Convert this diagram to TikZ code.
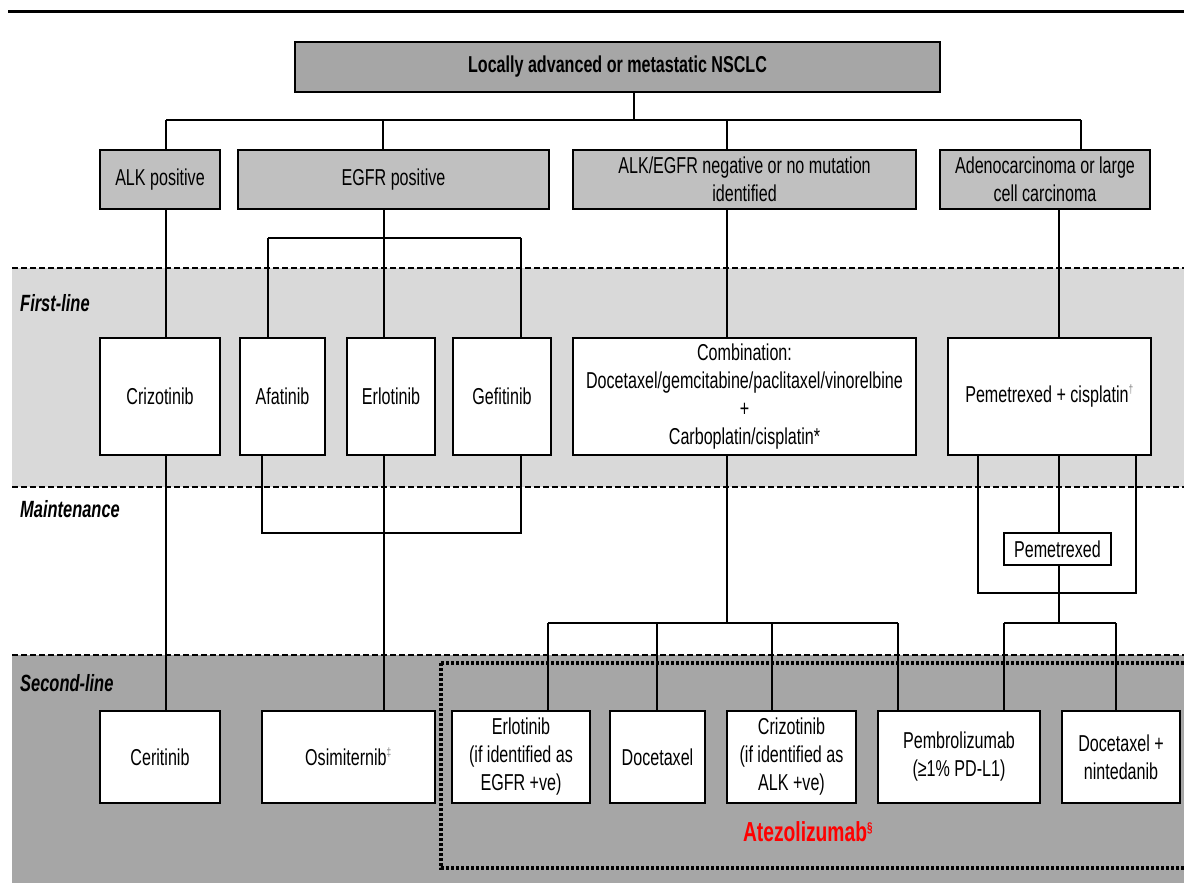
\documentclass[tikz,border=0pt]{standalone}
\usepackage{fontspec}
\setmainfont{Liberation Sans}[FakeStretch=0.70]
\definecolor{lightband}{HTML}{D9D9D9}
\definecolor{darkband}{HTML}{A6A6A6}
\definecolor{rootfill}{HTML}{A6A6A6}
\definecolor{catfill}{HTML}{C0C0C0}
\definecolor{supgray}{HTML}{808080}
\newcommand\mainsz{\fontsize{23}{28}\selectfont}
\newcommand\labsz{\bfseries\itshape\fontsize{23.5}{26}\selectfont}
\newcommand\supmark[1]{\textsuperscript{\textcolor{supgray}{\fontsize{12}{12}\selectfont #1}}}
\begin{document}
\begin{tikzpicture}[x=1pt,y=-1pt,
  box/.style={draw, line width=2.9pt, fill=white, inner sep=0pt, outer sep=0pt, align=center, font=\mainsz},
  sz/.style 2 args={minimum width=#1pt, minimum height=#2pt},
  conn/.style={line width=2pt},
  bandline/.style={line width=2pt, dash pattern=on 6pt off 3pt},
  lab/.style={anchor=west, inner sep=0pt, font=\labsz}]
\useasboundingbox (0,0) rectangle (1184,883);
% bands
\fill[lightband] (12,268) rectangle (1184,487);
\fill[darkband] (12,655) rectangle (1184,883);
\draw[bandline] (12,268) -- (1184,268);
\draw[bandline] (12,487) -- (1184,487);
\draw[bandline] (12,655) -- (1184,655);
\draw[line width=3pt] (8,12) -- (1184,12);
\draw[line width=3.2pt, dash pattern=on 3pt off 2pt] (441,663) rectangle (1200,868);
% labels
\node[lab] (fl) at (20,303) {First-line};
\node[lab] (ml) at (20,509) {Maintenance};
\node[lab] (sl) at (20,683) {Second-line};
% boxes
\node[box, fill=rootfill, sz={645}{50}, font=\bfseries\mainsz] (root) at (617.5,67) {Locally advanced or metastatic NSCLC};
\node[box, fill=catfill, sz={120}{59}] (alk) at (160,179.5) {ALK positive};
\node[box, fill=catfill, sz={311}{59}] (egfr) at (393.5,179.5) {EGFR positive};
\node[box, fill=catfill, sz={343}{59}] (neg) at (744.5,179.5) {ALK/EGFR negative or no mutation\\identified};
\node[box, fill=catfill, sz={210}{59}] (adeno) at (1045,179.5) {Adenocarcinoma or large\\cell carcinoma};
\node[box, sz={120}{117}] (crizo) at (160,396.5) {Crizotinib};
\node[box, sz={85}{117}] (afat) at (282.5,396.5) {Afatinib};
\node[box, sz={88}{117}] (erlo) at (391,396.5) {Erlotinib};
\node[box, sz={98}{117}] (gef) at (502,396.5) {Gefitinib};
\node[box, sz={343}{117}] (comb) at (744.5,396.5) {Combination:\\Docetaxel/gemcitabine/paclitaxel/vinorelbine\\+\\Carboplatin/cisplatin*};
\node[box, sz={203}{117}] (pemcis) at (1049.5,396.5) {Pemetrexed + cisplatin\supmark{†}};
\node[box, sz={107}{32}] (pemet) at (1057.5,549) {Pemetrexed};
\node[box, sz={120}{92}] (cerit) at (160,757) {Ceritinib};
\node[box, sz={173}{92}] (osim) at (348.5,757) {Osimiternib\supmark{‡}};
\node[box, sz={138}{92}] (erlo2) at (521,757) {Erlotinib\\(if identified as\\EGFR +ve)};
\node[box, sz={95}{92}] (doc) at (657.5,757) {Docetaxel};
\node[box, sz={129}{92}] (crizo2) at (791.5,757) {Crizotinib\\(if identified as\\ALK +ve)};
\node[box, sz={162}{92}] (pembro) at (959,757) {Pembrolizumab\\(≥1\% PD-L1)};
\node[box, sz={118}{92}] (docnin) at (1121,757) {Docetaxel +\\nintedanib};
\node[text=red, inner sep=0pt, font=\bfseries\fontsize{27.5}{30}\selectfont] (atezo) at (808,832) {Atezolizumab\textsuperscript{\fontsize{14}{14}\selectfont §}};
% top connectors
\coordinate (j0) at (634,120);
\coordinate (jA) at (166,120);
\coordinate (jE) at (383,120);
\coordinate (jN) at (727,120);
\coordinate (jD) at (1081,120);
\draw[conn] (root.south -| j0) -- (j0);
\draw[conn] (jA) -- (jD);
\draw[conn] (jA) -- (jA |- alk.north);
\draw[conn] (jE) -- (jE |- egfr.north);
\draw[conn] (jN) -- (jN |- neg.north);
\draw[conn] (jD) -- (jD |- adeno.north);
% EGFR first-line
\coordinate (e0) at (384,238);
\coordinate (eL) at (268,238);
\coordinate (eR) at (521,238);
\draw[conn] (egfr.south -| e0) -- (e0);
\draw[conn] (eL) -- (eR);
\draw[conn] (eL) -- (eL |- afat.north);
\draw[conn] (e0) -- (e0 |- erlo.north);
\draw[conn] (eR) -- (eR |- gef.north);
% ALK
\draw[conn] (jA |- alk.south) -- (jA |- crizo.north);
\draw[conn] (jA |- crizo.south) -- (jA |- cerit.north);
% neg
\draw[conn] (jN |- neg.south) -- (jN |- comb.north);
% adeno
\coordinate (pM) at (1059,300);
\draw[conn] (pM |- adeno.south) -- (pM |- pemcis.north);
% EGFR maintenance
\coordinate (mL) at (262,533);
\coordinate (mR) at (521,533);
\draw[conn] (mL |- afat.south) -- (mL) -- (mR) -- (mR |- gef.south);
\draw[conn] (e0 |- erlo.south) -- (e0 |- osim.north);
% comb to second line
\coordinate (c0) at (727,623);
\coordinate (cA) at (548,623);
\coordinate (cB) at (657,623);
\coordinate (cC) at (772,623);
\coordinate (cD) at (898,623);
\draw[conn] (jN |- comb.south) -- (c0);
\draw[conn] (cA) -- (cD);
\draw[conn] (cA) -- (cA |- erlo2.north);
\draw[conn] (cB) -- (cB |- doc.north);
\draw[conn] (cC) -- (cC |- crizo2.north);
\draw[conn] (cD) -- (cD |- pembro.north);
% pemetrexed maintenance
\coordinate (pL) at (978,593);
\coordinate (pR) at (1136,593);
\draw[conn] (pL |- pemcis.south) -- (pL) -- (pR) -- (pR |- pemcis.south);
\draw[conn] (pM |- pemcis.south) -- (pM |- pemet.north);
\coordinate (q0) at (1059,623);
\coordinate (qL) at (1004,623);
\coordinate (qR) at (1116,623);
\draw[conn] (pM |- pemet.south) -- (q0);
\draw[conn] (qL) -- (qR);
\draw[conn] (qL) -- (qL |- pembro.north);
\draw[conn] (qR) -- (qR |- docnin.north);
\end{tikzpicture}
\end{document}
